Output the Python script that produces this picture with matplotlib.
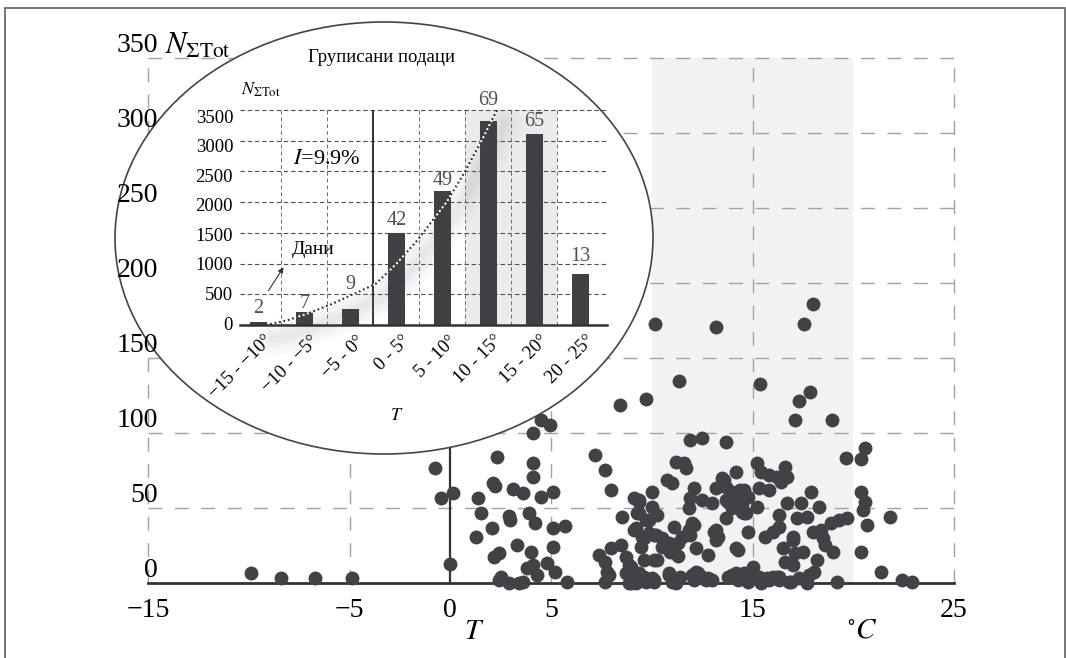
import matplotlib
matplotlib.use('Agg')
import matplotlib.pyplot as plt
from matplotlib.patches import Ellipse, Rectangle

plt.rcParams['font.family'] = ['Liberation Serif', 'DejaVu Serif']
plt.rcParams['mathtext.fontset'] = 'stix'

W, H = 1066, 658

# ---------------- data ----------------
scatter_T = [
    -9.9, -8.4, -6.7, -4.9, -0.75, -0.45, 0.15, 0.0,
    2.3, 2.1, 2.2, 1.4, 1.55, 2.05, 1.3, 2.9, 2.98, 3.13, 3.6, 4.13, 4.13, 4.48, 5.1, 3.9,
    4.2, 5.1, 5.7, 3.3, 4.0, 5.1, 2.15, 2.4, 4.8, 4.1, 3.8, 4.3, 5.2, 5.8, 2.4, 2.5, 2.9,
    3.4, 3.6, 4.48, 4.97, 4.13,
    7.2, 7.66, 7.96, 8.5, 9.1, 9.35, 10.0, 9.35, 9.7, 10.0, 9.2, 9.5, 10.1, 9.45, 9.6, 10.1,
    8.46, 8.0, 7.36, 7.7, 8.7, 8.85, 7.76, 7.7, 8.85, 9.2, 9.7, 10.1, 9.35, 8.95, 7.86, 8.95,
    8.4, 9.7, 10.15, 13.2, 17.56, 18.0, 11.34, 15.37, 17.86, 17.3, 17.1, 18.96, 11.9, 12.5,
    13.7, 19.65, 20.6, 20.4,
    11.2, 11.6, 11.7, 10.75, 11.0, 12.1, 11.9, 12.5, 13.0, 11.84, 14.2, 13.5, 13.2, 13.7,
    14.0, 14.4, 13.7, 14.0, 14.5, 14.8, 15.2, 15.2, 15.4, 15.8, 15.3, 15.8, 13.7, 12.1, 11.84,
    11.5, 11.1, 13.1, 13.3, 14.8, 15.6, 16.0, 10.2, 10.5, 10.85, 11.3, 12.2, 12.8, 14.2,
    10.25, 10.1, 10.85, 11.2, 12.0, 12.3, 12.7, 13.0, 14.0, 14.3, 15.0, 15.3, 15.8, 16.3,
    16.2, 16.6, 16.7, 16.4, 14.6, 14.6, 16.7, 17.4, 17.9, 18.3, 17.2, 17.7, 16.3, 16.3, 17.0,
    18.0, 18.4, 18.9, 19.3, 19.7, 18.5, 18.6, 19.0, 20.4, 20.6, 20.5, 20.7, 21.8, 20.4, 21.4,
    22.4, 22.9, 19.2, 17.5, 16.5, 16.6, 17.0, 18.2, 17.8, 18.06, 17.7, 14.5, 14.8, 15.4, 16.0,
    16.3, 16.9, 14.3,
    13.6, 13.8, 14.1, 14.5, 14.7, 17.1, 17.0, 13.2, 13.2, 12.0, 11.9, 9.85, 9.6, 9.1, 9.25,
    9.35, 10.25, 9.85, 8.7, 9.1, 9.6, 10.0, 10.85, 11.0, 11.4, 12.2, 12.5, 12.8, 12.1, 13.8,
    14.2, 14.6, 14.9, 15.3, 15.7, 16.2, 16.8, 17.3, 10.9, 10.5, 11.3,
]
scatter_N = [
    6.7, 3.3, 3.3, 3.3, 76.7, 57.0, 60.0, 12.7,
    84.0, 67.0, 65.0, 57.0, 47.0, 37.0, 31.0, 45.0, 42.0, 62.7, 60.0, 80.0, 70.7, 57.3, 60.7, 46.7,
    40.0, 36.7, 38.0, 25.3, 20.7, 24.0, 17.3, 20.0, 13.3, 12.0, 10.0, 5.3, 7.3, 0.7, 2.0, 4.0, 0.0,
    0.0, 1.0, 108.7, 105.3, 100.0,
    85.3, 75.3, 62.0, 44.0, 56.7, 55.3, 60.7, 46.7, 42.0, 50.7, 36.7, 30.7, 32.0, 24.0, 15.3, 15.3,
    25.3, 23.3, 18.7, 14.0, 17.3, 12.0, 7.3, 0.7, 0.0, 0.0, 0.7, 2.0, 6.7, 10.7, 5.3, 0.0,
    118.7, 123.0, 173.0, 171.0, 172.7, 186.0, 134.7, 133.0, 127.3, 121.3, 108.7, 108.7, 95.3, 96.7,
    94.0, 83.3, 90.0, 83.0,
    80.7, 80.0, 76.7, 68.7, 66.7, 63.3, 56.7, 55.3, 53.3, 50.0, 74.0, 70.0, 63.3, 64.0,
    60.7, 62.0, 55.3, 50.0, 47.3, 57.3, 50.7, 80.0, 74.0, 72.0, 63.3, 62.0, 43.3, 38.7, 35.3,
    30.7, 37.3, 34.0, 30.7, 34.0, 30.7, 34.0, 32.0, 30.0, 26.7, 26.7, 23.3, 18.7, 23.3,
    15.3, 0.7, 5.3, 0.0, 5.3, 6.7, 2.0, 2.0, 5.3, 2.0, 10.7, 4.0, 2.0, 4.0,
    70.7, 77.3, 70.7, 67.3, 62.0, 47.0, 53.3, 53.3, 60.7, 50.7, 43.3, 44.0, 45.3, 37.3, 30.7,
    34.0, 35.3, 40.0, 42.0, 43.3, 30.0, 25.3, 20.7, 60.7, 54.0, 48.7, 38.7, 44.0, 20.7, 7.3,
    2.0, 0.7, 0.7, 20.7, 23.3, 14.0, 12.0, 15.3, 5.3, 7.3, 0.0, 5.3, 0.7, 0.0, 4.0,
    2.0, 0.7, 22.0,
    68.7, 54.0, 57.0, 53.0, 47.0, 20.0, 28.7, 35.3, 28.7, 40.0, 32.0, 33.3, 30.0, 35.3, 46.7,
    54.0, 45.3, 42.0, 6.7, 4.0, 4.0, 3.3, 6.7, 0.7, 4.0, 7.3, 4.0, 3.3, 2.0, 4.0,
    6.7, 6.7, 4.0, 2.0, 3.3, 4.0, 0.7, 3.3, 21.0, 24.0, 18.0,
]

main_yticks = [0, 50, 100, 150, 200, 250, 300, 350]
main_xticks = [-15, -5, 0, 5, 15, 25]
main_vgrid = [-15, -5, 5, 15, 25]

bin_labels = ['\u221215 - \u221210\u00b0', '\u221210 - \u22125\u00b0', '\u22125 - 0\u00b0',
              '0 - 5\u00b0', '5 - 10\u00b0', '10 - 15\u00b0', '15 - 20\u00b0', '20 - 25\u00b0']
bin_sum = [43, 206, 261, 1504, 2188, 3328, 3105, 831]
bin_days = [2, 7, 9, 42, 49, 69, 65, 13]
inset_yticks = [0, 500, 1000, 1500, 2000, 2500, 3000, 3500]

trend_x = [0.18, 0.65, 1.12, 1.60, 2.07, 2.55, 3.01, 3.45, 4.10, 4.50, 4.86, 5.19]
trend_y = [0, 81, 201, 342, 505, 668, 1004, 1373, 2009, 2508, 3013, 3502]

# ---------------- style ----------------
dot_color = '#414246'
grid_color = '#a2a2a2'
label_offsets = [230, 150, 400, 190, 170, 330, 215, 290]


def fx(px):
    return px / W


def fy(py):
    return 1 - py / H


fig = plt.figure(figsize=(W / 100, H / 100), dpi=100)

# frame
fig.add_artist(Rectangle((fx(5), -0.05), fx(1064.5) - fx(5), fy(7.5) + 0.05,
                         transform=fig.transFigure, fill=False, edgecolor='#6a6a6a', lw=1.3))

# ---------------- main axes ----------------
ax = fig.add_axes([fx(148), fy(583), (954 - 148) / W, (583 - 58) / H])
ax.set_xlim(-15, 25)
ax.set_ylim(0, 350)
ax.set_axis_off()

ax.axvspan(10, 20, color='#f1f2f4', lw=0, zorder=0)
for v in main_yticks[1:]:
    ax.axhline(v, color=grid_color, lw=1.0, ls=(0, (10, 9)), zorder=1, clip_on=False)
for v in main_vgrid:
    ax.axvline(v, color=grid_color, lw=1.0, ls=(0, (10, 9)), zorder=1, clip_on=False)
ax.axvline(0, color='#333333', lw=1.6, zorder=2)
ax.axhline(0, color='#333333', lw=2.0, zorder=2, clip_on=False)

ax.scatter(scatter_T, scatter_N, s=100, color=dot_color, lw=0, zorder=4, clip_on=False)

# inset ellipse
ax.add_patch(Ellipse((fx(384), fy(238)), 538 / W, 432 / H, transform=fig.transFigure,
                     facecolor='white', edgecolor='#444444', lw=1.2, zorder=5, clip_on=False))

for v in main_yticks:
    ax.text(-14.5, v + 8.5, str(v), ha='right', va='center', fontsize=20, zorder=10)
for v in main_xticks:
    ax.text(v, -18.5, str(v).replace('-', '\u2212'), ha='center', va='center', fontsize=20, zorder=10)

fig.text(fx(165), fy(46), r'$N_{\Sigma\mathrm{Tot}}$', fontsize=22, ha='left', va='center')
fig.text(fx(474), fy(632), r'$T$', fontsize=21, ha='center', va='center')
fig.text(fx(862), fy(630), r'$^{\circ}C$', fontsize=21, ha='center', va='center')

# ---------------- inset ----------------
axi = fig.add_axes([fx(240), fy(325), 367 / W, 215 / H])
axi.patch.set_alpha(0)
axi.set_xlim(-0.40, 7.58)
axi.set_ylim(0, 3500)
for s in ['top', 'right', 'left']:
    axi.spines[s].set_visible(False)
axi.spines['bottom'].set_color('#333333')
axi.spines['bottom'].set_linewidth(1.8)
axi.spines['bottom'].set_zorder(6)
axi.set_yticks([])
axi.set_xticks([])

axi.axvspan(4.5, 6.5, color='#ebebed', lw=0, zorder=0)
for v in inset_yticks[1:]:
    axi.axhline(v, color='#505050', lw=0.8, ls=(0, (4, 2.5)), zorder=1, clip_on=False)
for b in [0.5, 1.5, 3.5, 4.5, 5.5, 6.5]:
    axi.axvline(b, color='#6e6e6e', lw=0.7, ls=(0, (4, 3)), zorder=1)
axi.axvline(2.5, color='#222222', lw=1.3, zorder=2)

xs = list(range(len(bin_sum)))
axi.bar(xs, bin_sum, width=0.377, color='#404145', zorder=3)

# soft shadow of trend
sx = [x + 0.15 for x in trend_x]
sy = [y - 220 for y in trend_y]
for lw_, a_ in [(26, 0.035), (18, 0.045), (11, 0.05), (6, 0.05)]:
    axi.plot(sx, sy, color='#808080', lw=lw_, alpha=a_, solid_capstyle='round',
             solid_joinstyle='round', zorder=2, clip_on=False)
# dotted trend: dark dots on white, white dots over the bars
axi.plot(trend_x, trend_y, color='#333333', lw=1.7, ls=(0, (0.01, 1.9)),
         dash_capstyle='round', zorder=2.5)
axi.plot(trend_x, trend_y, color='white', lw=1.7, ls=(0.95, (0.01, 1.9)),
         dash_capstyle='round', zorder=4)

for i, (h, d) in enumerate(zip(bin_sum, bin_days)):
    axi.text(i, h + label_offsets[i], str(d), ha='center', va='center', fontsize=14.5,
             color='#505050', zorder=6)

for v in inset_yticks:
    axi.text(-0.55, v * 0.962, str(v), ha='right', va='center', fontsize=13.5, clip_on=False)

for i, lab in enumerate(bin_labels):
    axi.text(i + 0.12, -120, lab, rotation=45, ha='right', va='top', rotation_mode='anchor',
             fontsize=13.5, clip_on=False)

axi.annotate('', xy=(0.578, 977), xytext=(0.187, 521),
             arrowprops=dict(arrowstyle='-|>', color='#333333', lw=0.8, mutation_scale=8))
axi.text(1.19, 1221, 'Дани', ha='center', va='center', fontsize=14)

fig.text(fx(382), fy(57), 'Груписани подаци', ha='center', va='center', fontsize=13.5)
fig.text(fx(241), fy(90), r'$N_{\Sigma\mathrm{Tot}}$', ha='left', va='center', fontsize=13)
fig.text(fx(327), fy(159), '$I$=9.9%', ha='center', va='center', fontsize=16)
fig.text(fx(397), fy(415), r'$T$', ha='center', va='center', fontsize=13)

fig.savefig('out.png', dpi=100)
